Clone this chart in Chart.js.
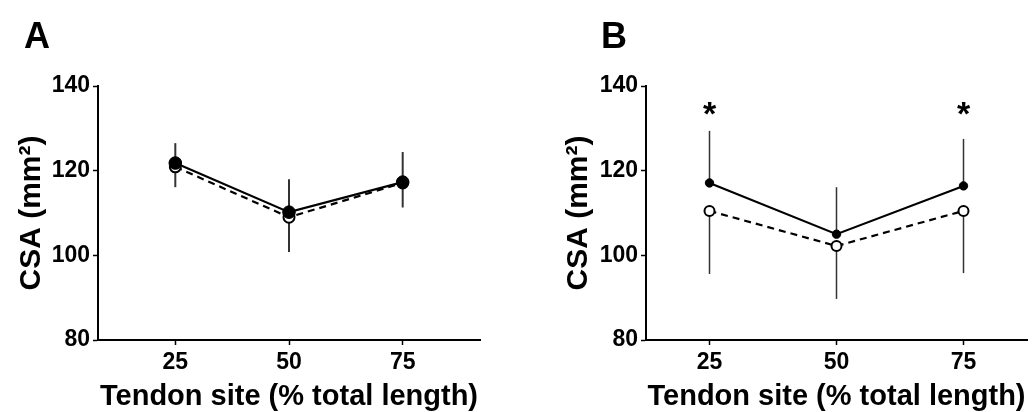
<!DOCTYPE html>
<html>
<head>
<meta charset="utf-8">
<script src="https://cdn.jsdelivr.net/npm/chart.js@4/dist/chart.umd.min.js"></script>
<style>
  body { margin: 0; background: #fff; }
  #wrap { position: relative; width: 1035px; height: 412px; overflow: hidden; }
  canvas { position: absolute; top: 0; }
  .panel { position: absolute; top: 15px; font: bold 36px "Liberation Sans", Arial, sans-serif; color: #000; }
</style>
</head>
<body>
<div id="wrap">
  <canvas id="chartA" width="517" height="412" style="left:0"></canvas>
  <canvas id="chartB" width="518" height="412" style="left:517px"></canvas>
  <div class="panel" style="left:24px">A</div>
  <div class="panel" style="left:601px">B</div>
</div>
<script>
const sites = [25, 50, 75];
const yTicks = [80, 100, 120, 140];

// panel A
const aFilled = [121.8, 110.2, 117.3];
const aFilledSD = [4.7, 7.8, 7.1];
const aOpen = [120.9, 109.0, 117.1];
const aOpenSD = [4.8, 8.2, 5.8];

// panel B
const bFilled = [117.1, 105.0, 116.4];
const bFilledSD = [12.3, 11.1, 11.1];
const bOpen = [110.5, 102.2, 110.5];
const bOpenSD = [14.9, 12.5, 14.7];
const bStars = [25, 75];
const bStarLevel = 134.8;

const FONT = '"Liberation Sans", Arial, sans-serif';

// error bars: filled group goes up, open group goes down
const errorBars = {
    id: 'errorBars',
    beforeDatasetsDraw(chart, args, opts) {
        const { ctx, scales: { x, y } } = chart;
        ctx.save();
        ctx.strokeStyle = '#333';
        ctx.lineWidth = opts.width;
        chart.data.datasets.forEach(ds => {
            ds.data.forEach((p, i) => {
                const px = x.getPixelForValue(p.x);
                const y0 = y.getPixelForValue(p.y);
                const y1 = y.getPixelForValue(p.y + ds.sd[i] * ds.dir);
                ctx.beginPath();
                ctx.moveTo(px, y0);
                ctx.lineTo(px, y1);
                ctx.stroke();
            });
        });
        ctx.restore();
    }
};

const stars = {
    id: 'stars',
    afterDatasetsDraw(chart, args, opts) {
        if (!opts.at || !opts.at.length) return;
        const { ctx, scales: { x, y } } = chart;
        ctx.save();
        ctx.font = 'bold 34px ' + FONT;
        ctx.fillStyle = '#000';
        ctx.textAlign = 'center';
        ctx.textBaseline = 'alphabetic';
        const m = ctx.measureText('*');
        const shift = (m.actualBoundingBoxAscent - m.actualBoundingBoxDescent) / 2;
        opts.at.forEach(v => {
            ctx.fillText('*', x.getPixelForValue(v), y.getPixelForValue(opts.level) + shift);
        });
        ctx.restore();
    }
};

function makePanel(id, cfg) {
    const toPts = arr => arr.map((v, i) => ({ x: sites[i], y: v }));
    return new Chart(document.getElementById(id), {
        type: 'line',
        data: {
            datasets: [
                {
                    data: toPts(cfg.filled), sd: cfg.filledSD, dir: 1,
                    borderColor: '#000', borderWidth: 2.2,
                    pointBackgroundColor: '#000', pointBorderColor: '#000',
                    pointRadius: cfg.filledR, pointBorderWidth: 1
                },
                {
                    data: toPts(cfg.open), sd: cfg.openSD, dir: -1,
                    borderColor: '#000', borderWidth: 2.2, borderDash: [7, 5],
                    pointBackgroundColor: '#fff', pointBorderColor: '#000',
                    pointRadius: cfg.openR, pointBorderWidth: 2
                }
            ]
        },
        options: {
            responsive: false,
            animation: false,
            layout: { padding: { left: cfg.padLeft, right: cfg.padRight, top: 86, bottom: 0 } },
            scales: {
                x: {
                    type: 'linear',
                    min: cfg.xMin,
                    max: cfg.xMax,
                    afterBuildTicks: s => { s.ticks = sites.map(v => ({ value: v })); },
                    afterFit: s => { s.height = 72; },
                    ticks: { color: '#000', font: { family: FONT, size: 23, weight: 'bold' }, padding: 4 },
                    grid: { drawOnChartArea: false, drawTicks: true, tickLength: 5, tickColor: '#000', tickWidth: 1.5 },
                    border: { display: true, color: '#000', width: 2 },
                    title: {
                        display: true,
                        text: 'Tendon site (% total length)',
                        color: '#000',
                        font: { family: FONT, size: 29, weight: 'bold', lineHeight: 1 },
                        padding: { top: 0, bottom: 1 }
                    }
                },
                y: {
                    min: 80,
                    max: 140,
                    afterBuildTicks: s => { s.ticks = yTicks.map(v => ({ value: v })); },
                    afterFit: s => { s.width = cfg.yWidth; },
                    ticks: { color: '#000', font: { family: FONT, size: 23, weight: 'bold' }, padding: 3 },
                    grid: { drawOnChartArea: false, drawTicks: true, tickLength: 5, tickColor: '#000', tickWidth: 1.5 },
                    border: { display: true, color: '#000', width: 2 },
                    title: {
                        display: true,
                        text: 'CSA (mm²)',
                        color: '#000',
                        font: { family: FONT, size: 30, weight: 'bold', lineHeight: 1 },
                        padding: { top: 17, bottom: 0 }
                    }
                }
            },
            plugins: {
                legend: { display: false },
                tooltip: { enabled: false },
                errorBars: { width: cfg.barWidth },
                stars: { at: cfg.stars || [], level: bStarLevel }
            }
        },
        plugins: [errorBars, stars]
    });
}

makePanel('chartA', {
    filled: aFilled, filledSD: aFilledSD, open: aOpen, openSD: aOpenSD,
    filledR: 6.3, openR: 5.5, barWidth: 2,
    xMin: 8, xMax: 92, padLeft: 0, padRight: 37, yWidth: 98
});

makePanel('chartB', {
    filled: bFilled, filledSD: bFilledSD, open: bOpen, openSD: bOpenSD,
    filledR: 4.2, openR: 5, barWidth: 1.5,
    xMin: 12.5, xMax: 87.5, padLeft: 30, padRight: 8, yWidth: 99,
    stars: bStars
});
</script>
</body>
</html>
